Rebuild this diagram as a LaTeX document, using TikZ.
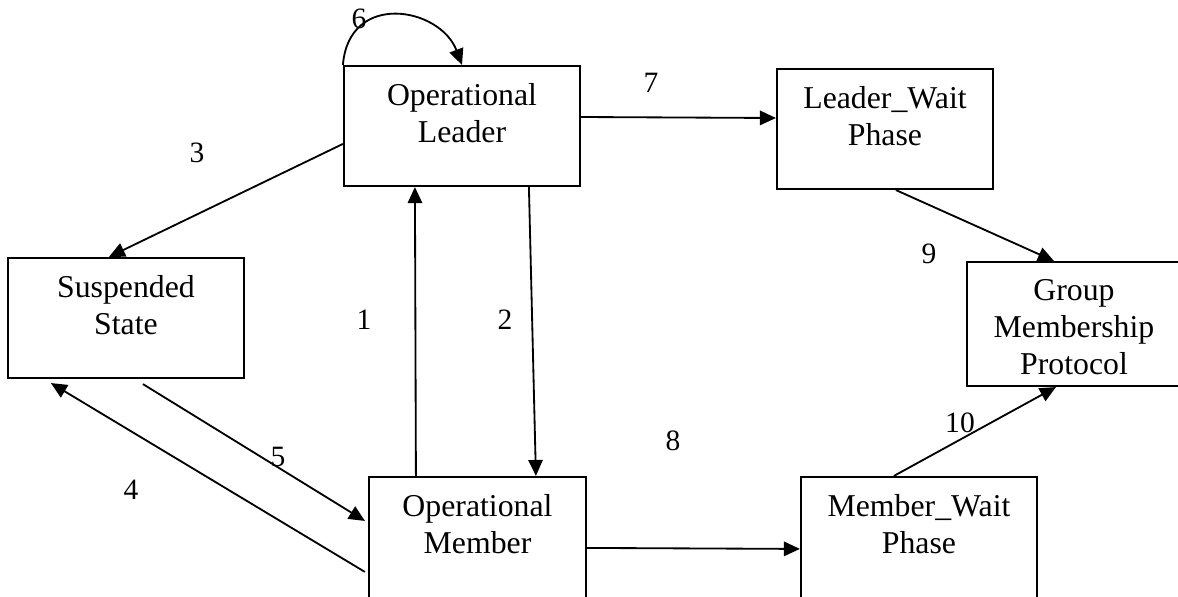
\documentclass[tikz,border=0pt]{standalone}
\usepackage{fontspec}
\setmainfont{Liberation Serif}
\usetikzlibrary{arrows.meta,calc,positioning}

\begin{document}
\begin{tikzpicture}[x=0.025cm, y=-0.025cm,
  font=\fontsize{22.6}{26.3}\selectfont,
  state/.style={draw, line width=1.5pt, inner sep=0pt, minimum height=3cm},
  txt/.style={inner sep=0pt, align=center},
  num/.style={inner sep=0pt, font=\fontsize{21}{25}\selectfont},
  arr/.style={line width=1.3pt, -{Triangle[length=0.4cm, width=0.36cm]}}]
\useasboundingbox (0,0) rectangle (1178,597);
\clip (0,0) rectangle (1178,597);
% boxes
\node[state, minimum width=5.9cm] (lead) at (462,126) {};
\node[state, minimum width=5.4cm] (lwait) at (885,129) {};
\node[state, minimum width=5.9cm] (susp) at (126,318) {};
\node[state, minimum width=5.35cm, minimum height=3.1cm] (gmp) at (1074,324) {};
\node[state, minimum width=5.425cm, minimum height=3.2cm] (omem) at (477.5,541) {};
\node[state, minimum width=5.9cm, minimum height=3.2cm] (mwait) at (919,541) {};
\node[txt, below=0.46cm of lead.north] (leadtxt) {Operational\\Leader};
\node[txt, below=0.46cm of lwait.north] (lwaittxt) {Leader\_Wait\\Phase};
\node[txt, below=0.46cm of susp.north] (susptxt) {Suspended\\State};
\node[txt, below=0.46cm of gmp.north] (gmptxt) {Group\\Membership\\Protocol};
\node[txt, below=0.46cm of omem.north] (omemtxt) {Operational\\Member};
\node[txt, below=0.46cm of mwait.north] (mwaittxt) {Member\_Wait\\Phase};
% transitions
\draw[arr] ($(omem.north west)+(48,0)$) -- ($(lead.south west)+(72,0)$);
\draw[arr] ($(lead.south west)+(186,0)$) -- ($(omem.north west)+(168,0)$);
\draw[arr] ($(lead.north west)+(0,79)$) -- ($(susp.north west)+(102,0)$);
\draw[arr] ($(omem.north west)+(-3,96)$) -- ($(susp.south west)+(44,4)$);
\draw[arr] ($(susp.south west)+(136,5)$) -- ($(omem.north west)+(-3,45)$);
\draw[arr] (lead.north west) .. controls +(6,-74) and +(-22,-58) .. (lead.north);
\draw[arr] ($(lead.east)+(0,-9)$) -- ($(lwait.west)+(0,-11)$);
\draw[arr] ($(omem.north east)+(0,72)$) -- ($(mwait.north west)+(0,73)$);
\draw[arr] ($(lwait.south west)+(120,0)$) -- ($(gmp.north west)+(88,0)$);
\draw[arr] ($(mwait.north west)+(94,0)$) -- ($(gmp.south west)+(90,0)$);
% transition numbers
\foreach \n/\x/\y in {1/364/320, 2/505/320, 3/197/153, 4/131/490, 5/278/457,
  6/359/19, 7/651/83, 8/673/441, 9/929/254, 10/960/423}
  \node[num] (n\n) at (\x,\y) {\n};
\end{tikzpicture}
\end{document}
